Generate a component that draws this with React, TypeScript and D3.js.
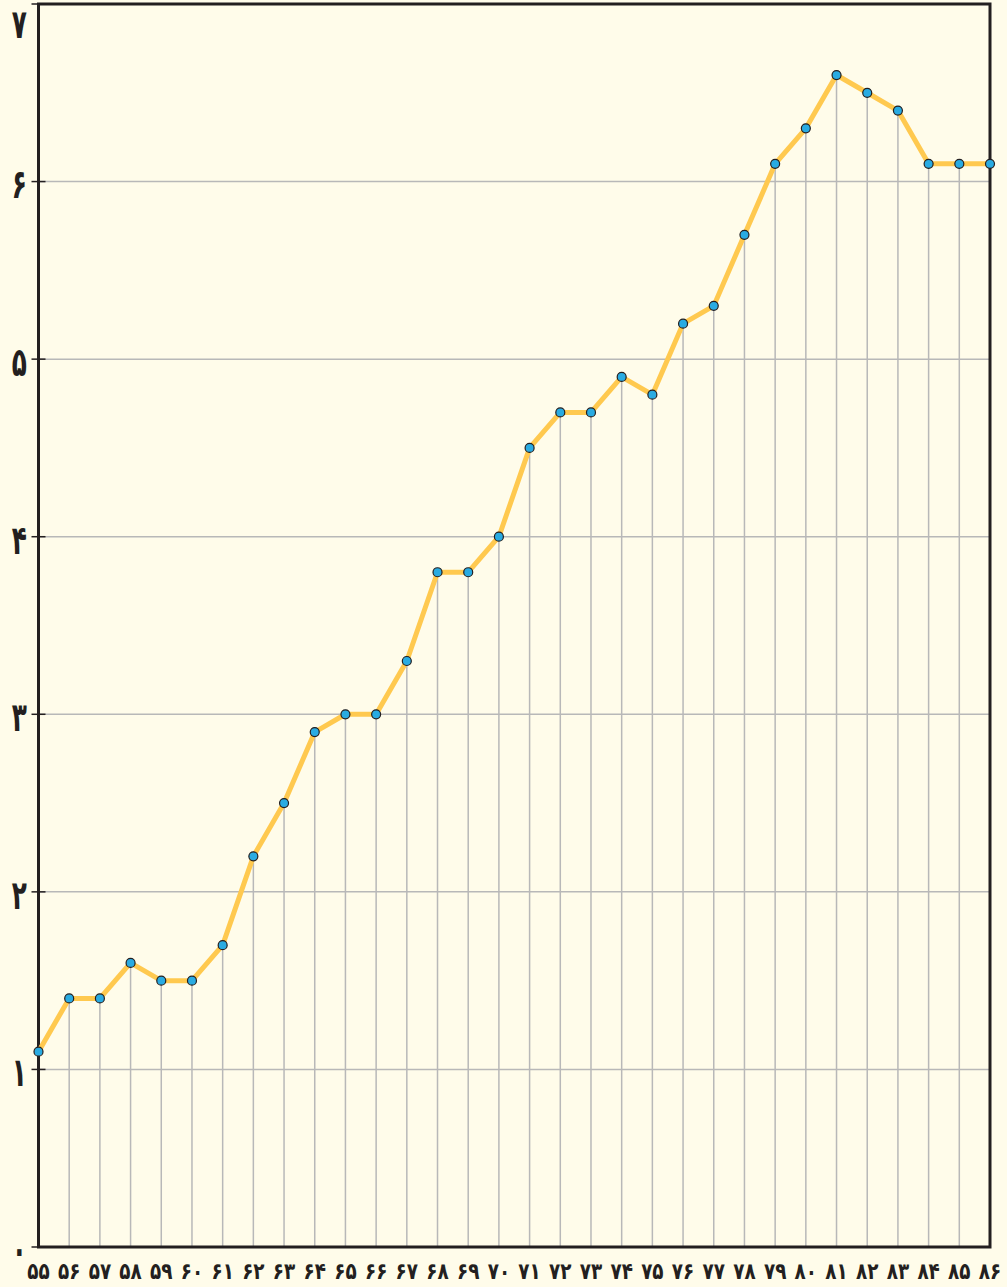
import React, { useEffect, useRef } from "react";
import * as d3 from "d3";

const years = [55, 56, 57, 58, 59, 60, 61, 62, 63, 64, 65, 66, 67, 68, 69, 70, 71, 72, 73, 74, 75, 76, 77, 78, 79, 80, 81, 82, 83, 84, 85, 86];
const values = [1.1, 1.4, 1.4, 1.6, 1.5, 1.5, 1.7, 2.2, 2.5, 2.9, 3.0, 3.0, 3.3, 3.8, 3.8, 4.0, 4.5, 4.7, 4.7, 4.9, 4.8, 5.2, 5.3, 5.7, 6.1, 6.3, 6.6, 6.5, 6.4, 6.1, 6.1, 6.1];
const yTicks = [0, 1, 2, 3, 4, 5, 6, 7];

const fa = (n: number) => String(n).replace(/\d/g, d => "۰۱۲۳۴۵۶۷۸۹"[+d]);

export default function App() {
  const ref = useRef<SVGSVGElement>(null);

  useEffect(() => {
    const width = 1007;
    const height = 1287;
    const margin = { top: 4, left: 38.5, right: 17, bottom: 40 };

    const svg = d3.select(ref.current);
    svg.selectAll("*").remove();

    svg.append("rect").attr("width", width).attr("height", height).attr("fill", "#fffcea");

    const x = d3.scaleLinear().domain([55, 86]).range([margin.left, width - margin.right]);
    const y = d3.scaleLinear().domain([0, 7]).range([height - margin.bottom, margin.top]);

    const data = years.map((yr, i) => ({ yr, v: values[i] }));

    // horizontal grid
    svg.append("g")
      .selectAll("line")
      .data(yTicks.slice(1, -1))
      .join("line")
      .attr("x1", margin.left)
      .attr("x2", width - margin.right)
      .attr("y1", d => y(d))
      .attr("y2", d => y(d))
      .attr("stroke", "#b8b8b8")
      .attr("stroke-width", 1.5);

    // vertical drop lines
    svg.append("g")
      .selectAll("line")
      .data(data)
      .join("line")
      .attr("x1", d => x(d.yr))
      .attr("x2", d => x(d.yr))
      .attr("y1", d => y(d.v))
      .attr("y2", y(0))
      .attr("stroke", "#b8b8b8")
      .attr("stroke-width", 1.5);

    // frame
    svg.append("rect")
      .attr("x", margin.left)
      .attr("y", y(7))
      .attr("width", x(86) - margin.left)
      .attr("height", y(0) - y(7))
      .attr("fill", "none")
      .attr("stroke", "#231f20")
      .attr("stroke-width", 3);

    // y ticks
    svg.append("g")
      .selectAll("line")
      .data(yTicks)
      .join("line")
      .attr("x1", margin.left - 7)
      .attr("x2", margin.left + 7)
      .attr("y1", d => y(d))
      .attr("y2", d => y(d))
      .attr("stroke", "#231f20")
      .attr("stroke-width", 1.5);

    svg.append("g")
      .selectAll("text")
      .data(yTicks)
      .join("text")
      .attr("transform", d => `translate(27,${Math.max(y(d) + 3, 24)}) scale(0.62,1)`)
      .attr("text-anchor", "end")
      .attr("dominant-baseline", "central")
      .attr("font-family", "DejaVu Sans")
      .attr("font-weight", "bold")
      .attr("font-size", 40)
      .attr("fill", "#231f20")
      .text(d => fa(d));

    svg.append("g")
      .selectAll("text")
      .data(years)
      .join("text")
      .attr("transform", d => `translate(${x(d)},${height - 8}) scale(0.8,1)`)
      .attr("text-anchor", "middle")
      .attr("font-family", "DejaVu Sans")
      .attr("font-weight", "bold")
      .attr("font-size", 23)
      .attr("fill", "#231f20")
      .text(d => fa(d));

    const line = d3.line<{ yr: number; v: number }>().x(d => x(d.yr)).y(d => y(d.v));

    svg.append("path")
      .datum(data)
      .attr("d", line)
      .attr("fill", "none")
      .attr("stroke", "#ffc94f")
      .attr("stroke-width", 5)
      .attr("stroke-linejoin", "round");

    svg.append("g")
      .selectAll("circle")
      .data(data)
      .join("circle")
      .attr("cx", d => x(d.yr))
      .attr("cy", d => y(d.v))
      .attr("r", 4.5)
      .attr("fill", "#29abe2")
      .attr("stroke", "#231f20")
      .attr("stroke-width", 1.2);
  }, []);

  return (
    <svg ref={ref} width={1007} height={1287} style={{ position: "absolute", left: 0, top: 0, display: "block" }} />
  );
}
